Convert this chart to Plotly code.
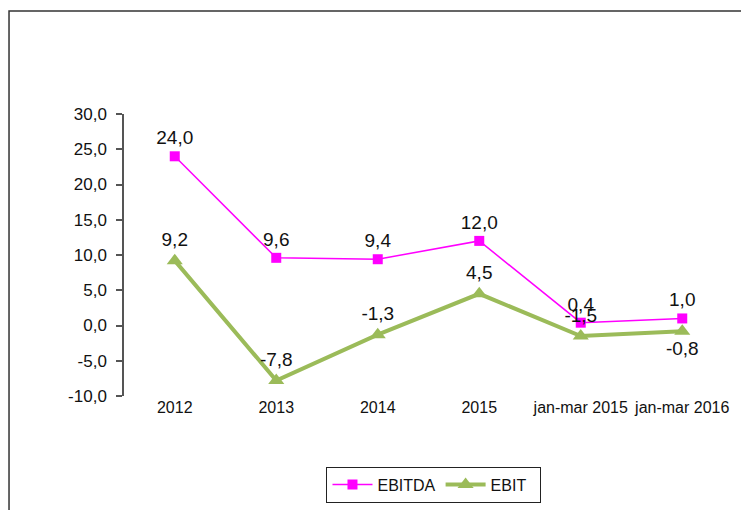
import plotly.graph_objects as go

categories = ["2012", "2013", "2014", "2015", "jan-mar 2015", "jan-mar 2016"]
ebitda = [24.0, 9.6, 9.4, 12.0, 0.4, 1.0]
ebit = [9.2, -7.8, -1.3, 4.5, -1.5, -0.8]
ebit_text_pos = ["top center"] * 5 + ["bottom center"]
y_ticks = [-10, -5, 0, 5, 10, 15, 20, 25, 30]
y_ticktext = ["-10,0", "-5,0", "0,0", "5,0", "10,0", "15,0", "20,0", "25,0", "30,0"]

idx = list(range(len(categories)))
FONT = "Liberation Sans, Arial, sans-serif"


def fmt(v):
    return f"{v:.1f}".replace(".", ",")


fig = go.Figure()
fig.add_trace(go.Scatter(
    x=idx, y=ebitda, name="EBITDA", mode="lines+markers+text",
    line=dict(color="#FF00FF", width=1.5),
    marker=dict(symbol="square", size=10, color="#FF00FF"),
    text=[fmt(v) for v in ebitda],
    textposition="top center", textfont=dict(size=19, color="#111"),
    cliponaxis=False,
))
fig.add_trace(go.Scatter(
    x=idx, y=ebit, name="EBIT  ", mode="lines+markers+text",
    line=dict(color="#9BBB59", width=4),
    marker=dict(symbol="triangle-up", size=14, color="#9BBB59"),
    text=[fmt(v) for v in ebit],
    textposition=ebit_text_pos, textfont=dict(size=19, color="#111"),
    cliponaxis=False,
))

n = len(categories)
fig.update_layout(
    width=741, height=502,
    margin=dict(l=116, r=16, t=106, b=114, autoexpand=False),
    paper_bgcolor="white", plot_bgcolor="white",
    font=dict(family=FONT, size=16, color="#111"),
    showlegend=True,
    legend=dict(orientation="h", x=0.509, xanchor="center", y=-0.25, yanchor="top",
                bordercolor="#222", borderwidth=1, font=dict(size=16),
                itemwidth=40, tracegroupgap=0),
    xaxis=dict(range=[-0.5, n - 0.5], tickvals=idx, ticktext=categories,
               tickangle=0, showline=False, showgrid=False, zeroline=False,
               ticks="", tickfont=dict(size=16)),
    xaxis2=dict(overlaying="x", anchor="free", position=0.25, range=[-0.5, n - 0.5],
                tickvals=[i + 0.5 for i in idx], showticklabels=False,
                showline=True, linecolor="#666", linewidth=1.5,
                ticks="outside", ticklen=6, tickcolor="#666", tickwidth=1.5,
                showgrid=False, zeroline=False),
    yaxis=dict(range=[-10, 30], tickvals=y_ticks, ticktext=y_ticktext,
               showline=True, linecolor="#555", linewidth=1.5,
               ticks="outside", ticklen=6, tickcolor="#555", tickwidth=1.5,
               ticklabelstandoff=6,
               showgrid=False, zeroline=False, tickfont=dict(size=17)),
    shapes=[dict(type="rect", xref="paper", yref="paper",
                 x0=-0.1888, x1=1.06, y0=-0.45, y1=1.365,
                 line=dict(color="#333", width=1.5), fillcolor="rgba(0,0,0,0)")],
)
fig.write_html("out.html")
